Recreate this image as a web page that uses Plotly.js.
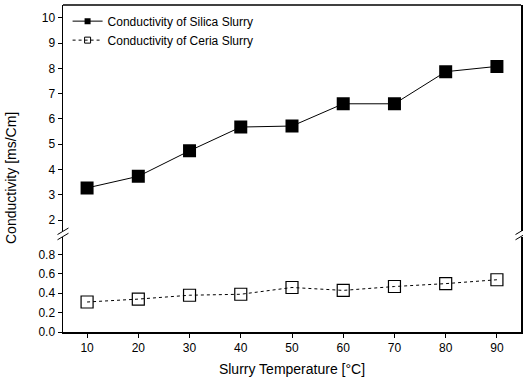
<!DOCTYPE html>
<html><head><meta charset="utf-8">
<script src="https://cdn.plot.ly/plotly-3.0.1.min.js"></script>
<style>body{margin:0;background:#fff}#c{width:523px;height:388px}</style>
</head><body><div id="c"></div>
<script>
const temperature = [10, 20, 30, 40, 50, 60, 70, 80, 90];
const silica = [3.27, 3.73, 4.74, 5.68, 5.72, 6.6, 6.6, 7.87, 8.08];
const ceria = [0.31, 0.34, 0.38, 0.39, 0.46, 0.43, 0.47, 0.50, 0.54];
const silicaName = 'Conductivity of Silica Slurry';
const ceriaName = 'Conductivity of Ceria Slurry';
const yTitle = 'Conductivity [ms/Cm]';
const xTitle = 'Slurry Temperature [°C]';

const font = {family: 'Liberation Sans, Arial, sans-serif', color: '#000'};
const traces = [
  {x: temperature, y: silica, name: silicaName, xaxis: 'x', yaxis: 'y2', mode: 'lines+markers', showlegend: false,
   line: {color: '#000', width: 1}, marker: {symbol: 'square', size: 13, color: '#000'}},
  {x: temperature, y: ceria, name: ceriaName, xaxis: 'x', yaxis: 'y', mode: 'lines+markers', showlegend: false,
   line: {color: '#000', width: 1, dash: 'dot'},
   marker: {symbol: 'square-open', size: 12, color: '#000', line: {width: 1.2}}},
  // legend entries with small markers
  {x: [null], y: [null], name: silicaName, xaxis: 'x', yaxis: 'y2', mode: 'lines+markers',
   line: {color: '#000', width: 1}, marker: {symbol: 'square', size: 6, color: '#000'}},
  {x: [null], y: [null], name: ceriaName, xaxis: 'x', yaxis: 'y', mode: 'lines+markers',
   line: {color: '#000', width: 1, dash: 'dot'}, marker: {symbol: 'square-open', size: 6, color: '#000', line: {width: 1}}}
];
const axCommon = {showline: true, linecolor: '#000', linewidth: 1.5, mirror: true, ticks: 'outside',
  ticklen: 4, tickcolor: '#000', showgrid: false, zeroline: false, tickfont: {...font, size: 12}};
const layout = {
  width: 523, height: 388, margin: {l: 63, r: 2, t: 5, b: 56},
  paper_bgcolor: '#fff', plot_bgcolor: '#fff', font: font, showlegend: true,
  legend: {x: 0.01, y: 0.995, xanchor: 'left', yanchor: 'top', bgcolor: 'rgba(0,0,0,0)',
    font: {...font, size: 12}, tracegroupgap: 0, itemwidth: 30},
  xaxis: {...axCommon, mirror: false, range: [5.3, 94.7], tickvals: temperature, anchor: 'y',
    title: {text: xTitle, font: {...font, size: 14}, standoff: 10}},
  yaxis: {...axCommon, domain: [0, 0.29], range: [0, 0.98], tickvals: [0, 0.2, 0.4, 0.6, 0.8],
    tickformat: '.1f', anchor: 'x'},
  yaxis2: {...axCommon, domain: [0.31, 1], range: [1.58, 10.51], tickvals: [2,3,4,5,6,7,8,9,10], anchor: 'x'},
  annotations: [{text: yTitle, xref: 'paper', yref: 'paper', x: -0.112, y: 0.47, xanchor: 'center', yanchor: 'middle',
    textangle: -90, showarrow: false, font: {...font, size: 14}}],
  shapes: [
    {type: 'line', xref: 'paper', yref: 'paper', x0: 0, x1: 1, y0: 1, y1: 1, line: {color: '#000', width: 1.5}},
    {type: 'line', xref: 'paper', yref: 'paper', x0: -0.012, x1: 0.012, y0: 0.282, y1: 0.302, line: {color: '#000', width: 1}},
    {type: 'line', xref: 'paper', yref: 'paper', x0: -0.012, x1: 0.012, y0: 0.298, y1: 0.318, line: {color: '#000', width: 1}},
    {type: 'line', xref: 'paper', yref: 'paper', x0: 0.988, x1: 1.012, y0: 0.282, y1: 0.302, line: {color: '#000', width: 1}},
    {type: 'line', xref: 'paper', yref: 'paper', x0: 0.988, x1: 1.012, y0: 0.298, y1: 0.318, line: {color: '#000', width: 1}}
  ]
};
Plotly.newPlot('c', traces, layout, {displayModeBar: false, staticPlot: true});
</script></body></html>
